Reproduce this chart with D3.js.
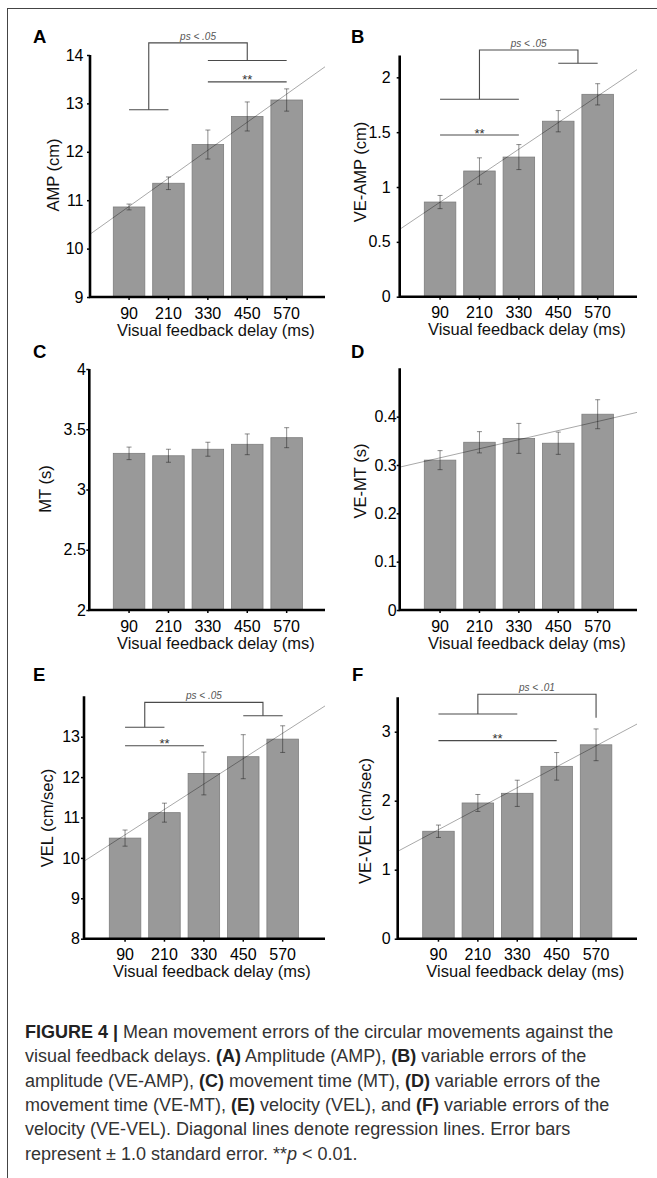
<!DOCTYPE html>
<html><head><meta charset="utf-8">
<script src="https://cdn.jsdelivr.net/npm/d3@7"></script>
<style>body{margin:0;background:#fff}svg{display:block}</style>
</head><body><svg id="c" width="657" height="1178"></svg>
<script>
// ---------- data ----------
const delays = ["90","210","330","450","570"];
const delayMs = [90,210,330,450,570];

const ampMean = [10.86, 11.35, 12.15, 12.73, 13.07];
const ampSE   = [0.06, 0.13, 0.30, 0.30, 0.23];
const veAmpMean = [0.863, 1.146, 1.273, 1.60, 1.845];
const veAmpSE   = [0.06, 0.12, 0.114, 0.097, 0.097];
const mtMean = [3.30, 3.28, 3.334, 3.375, 3.43];
const mtSE   = [0.052, 0.054, 0.058, 0.086, 0.083];
const veMtMean = [0.31, 0.347, 0.355, 0.345, 0.405];
const veMtSE   = [0.0197, 0.022, 0.031, 0.023, 0.030];
const velMean = [10.49, 11.12, 12.09, 12.505, 12.94];
const velSE   = [0.20, 0.235, 0.53, 0.545, 0.33];
const veVelMean = [1.557, 1.967, 2.107, 2.498, 2.81];
const veVelSE   = [0.09, 0.123, 0.19, 0.20, 0.23];

const ticksA = [9,10,11,12,13,14];
const ticksB = [0,0.5,1,1.5,2];
const ticksC = [2,2.5,3,3.5,4];
const ticksD = [0,0.1,0.2,0.3,0.4];
const ticksE = [8,9,10,11,12,13];
const ticksF = [0,1,2,3];

// significance brackets (group = bar indices, levels in data units)
const sigA = {text:"ps < .05", top:14.25, left:[0,1,12.87], right:[2,4,13.886], star:[2,4,13.445]};
const sigB = {text:"ps < .05", top:2.249, left:[0,2,1.80], right:[3,4,2.128], star:[0,2,1.474]};
const sigE = {text:"ps < .05", top:13.85, left:[0,1,13.233], right:[3,4,13.52], star:[0,2,12.777]};
const sigF = {text:"ps < .01", top:3.542, left:[0,2,3.257], right:[4,4,3.203], star:[0,3,2.87]};

const xTitle = "Visual feedback delay (ms)";

const captionLines = [
  [["FIGURE 4 | ","b"],["Mean movement errors of the circular movements against the",""]],
  [["visual feedback delays. ",""],["(A)","b"],[" Amplitude (AMP), ",""],["(B)","b"],[" variable errors of the",""]],
  [["amplitude (VE-AMP), ",""],["(C)","b"],[" movement time (MT), ",""],["(D)","b"],[" variable errors of the",""]],
  [["movement time (VE-MT), ",""],["(E)","b"],[" velocity (VEL), and ",""],["(F)","b"],[" variable errors of the",""]],
  [["velocity (VE-VEL). Diagonal lines denote regression lines. Error bars",""]],
  [["represent \u00b1 1.0 standard error. **",""],["p","i"],[" < 0.01.",""]]
];

// ---------- layout ----------
const FONT = "'Liberation Sans', Arial, Helvetica, sans-serif";
const panels = [
  {letter:"A", mean:ampMean, se:ampSE, yLabel:"AMP (cm)", domain:[9,14], ticks:ticksA,
   left:90, right:325, bottom:297, top:55, bar0:113.3, lx:33, ly:43.3, tx:59, ty:175, gap:6.5, reg:true, sig:sigA},
  {letter:"B", mean:veAmpMean, se:veAmpSE, yLabel:"VE-AMP (cm)", domain:[0,2.2], ticks:ticksB,
   left:399.7, right:637, bottom:296.7, top:55.4, bar0:424.3, lx:351, ly:43.3, tx:366, ty:172, gap:9, reg:true, sig:sigB},
  {letter:"C", mean:mtMean, se:mtSE, yLabel:"MT (s)", domain:[2,4], ticks:ticksC,
   left:89.3, right:325, bottom:610, top:369, bar0:113.3, lx:33, ly:358.3, tx:51, ty:489, gap:3.5, reg:false, sig:null},
  {letter:"D", mean:veMtMean, se:veMtSE, yLabel:"VE-MT (s)", domain:[0,0.5], ticks:ticksD,
   left:399.7, right:637, bottom:610, top:368.3, bar0:424.3, lx:351, ly:358.3, tx:365.5, ty:481, gap:3, reg:true, sig:null},
  {letter:"E", mean:velMean, se:velSE, yLabel:"VEL (cm/sec)", domain:[8,14], ticks:ticksE,
   left:84, right:325, bottom:938.7, top:696.3, bar0:109.3, lx:33, ly:681, tx:52.7, ty:818, gap:4, reg:true, sig:sigE},
  {letter:"F", mean:veVelMean, se:veVelSE, yLabel:"VE-VEL (cm/sec)", domain:[0,3.5], ticks:ticksF,
   left:397.7, right:637, bottom:938.7, top:697.2, bar0:422.7, lx:352, ly:681, tx:370.5, ty:821, gap:7, reg:true, sig:sigF}
];

const svg = d3.select("#c");
svg.append("rect").attr("x",7.5).attr("y",8.5).attr("width",720).attr("height",1200)
  .attr("fill","none").attr("stroke","#444").attr("stroke-width",1);

function drawPanel(p){
  const g = svg.append("g");
  const x = d3.scaleBand().domain(delays)
    .range([p.bar0 - 3.94, p.bar0 - 3.94 + 197]).paddingInner(0.2).paddingOuter(0.1);
  const y = d3.scaleLinear().domain(p.domain).range([p.bottom, p.top]);
  const cx = d => x(d) + x.bandwidth()/2;
  const xLin = d3.scaleLinear().domain([delayMs[0], delayMs[4]]).range([cx(delays[0]), cx(delays[4])]);

  // bars
  g.append("g").selectAll("rect").data(p.mean).join("rect")
    .attr("x",(d,i)=>x(delays[i])).attr("y",d=>y(d))
    .attr("width",x.bandwidth()).attr("height",d=>y(p.domain[0]) - y(d))
    .attr("fill","#999999").attr("stroke","#7d7d7d").attr("stroke-width",0.8);

  // regression
  if(p.reg){
    const mx = d3.mean(delayMs), my = d3.mean(p.mean);
    let sxy=0, sxx=0;
    delayMs.forEach((v,i)=>{ sxy += (v-mx)*(p.mean[i]-my); sxx += (v-mx)*(v-mx); });
    const b = sxy/sxx, a = my - b*mx;
    const d0 = xLin.invert(p.left), d1 = xLin.invert(p.right);
    g.append("line")
      .attr("x1",xLin(d0)).attr("y1",y(a+b*d0)).attr("x2",xLin(d1)).attr("y2",y(a+b*d1))
      .attr("stroke","rgba(0,0,0,0.38)").attr("stroke-width",0.9);
  }

  // error bars
  const eb = g.append("g").attr("stroke","rgba(30,30,30,0.5)").attr("stroke-width",1);
  p.mean.forEach((m,i)=>{
    const c = cx(delays[i]), lo = y(m - p.se[i]), hi = y(m + p.se[i]);
    eb.append("line").attr("x1",c).attr("x2",c).attr("y1",lo).attr("y2",hi);
    eb.append("line").attr("x1",c-2.5).attr("x2",c+2.5).attr("y1",lo).attr("y2",lo);
    eb.append("line").attr("x1",c-2.5).attr("x2",c+2.5).attr("y1",hi).attr("y2",hi);
  });

  // axes
  const yAx = g.append("g").attr("transform",`translate(${p.left},0)`)
    .call(d3.axisLeft(y).tickValues(p.ticks).tickSize(3).tickSizeOuter(0)
      .tickPadding(p.gap - 3).tickFormat(d3.format("~g")));
  yAx.select(".domain").remove();
  yAx.selectAll(".tick line").attr("stroke","#000").attr("stroke-width",1.5);
  yAx.selectAll(".tick text").attr("font-size",16).attr("font-family",FONT).attr("fill","#000");

  const xAx = g.append("g").attr("transform",`translate(0,${p.bottom})`)
    .call(d3.axisBottom(x).tickSize(3).tickSizeOuter(0));
  xAx.select(".domain").remove();
  xAx.selectAll(".tick line").attr("stroke","#000").attr("stroke-width",1.5);
  xAx.selectAll(".tick text").attr("font-size",16).attr("font-family",FONT).attr("fill","#000")
    .attr("y",21.5).attr("dy",0);

  g.append("path")
    .attr("d",`M${p.left},${y(p.domain[1])}V${y(p.domain[0])}H${p.right}`)
    .attr("fill","none").attr("stroke","#000").attr("stroke-width",2.6);

  // titles
  g.append("text").attr("x",cx(delays[2]) + 8).attr("y",p.bottom + 38.5)
    .attr("text-anchor","middle").attr("font-family",FONT).attr("font-size",16.5).attr("fill","#111")
    .text(xTitle);
  g.append("text").attr("transform",`translate(${p.tx},${p.ty}) rotate(-90)`)
    .attr("text-anchor","middle").attr("font-family",FONT).attr("font-size",16.5).attr("fill","#111")
    .text(p.yLabel);
  g.append("text").attr("x",p.lx).attr("y",p.ly).attr("font-family",FONT)
    .attr("font-weight","bold").attr("font-size",18.5).attr("fill","#000").text(p.letter);

  // significance
  if(p.sig){
    const s = p.sig, sg = g.append("g").attr("fill","none").attr("stroke","#4a4a4a").attr("stroke-width",1.1);
    const span = gr => [cx(delays[gr[0]]), cx(delays[gr[1]])];
    const [l0,l1] = span(s.left), [r0,r1] = span(s.right);
    const lm = (l0+l1)/2, rm = (r0+r1)/2, yt = y(s.top);
    if(l1>l0) sg.append("line").attr("x1",l0).attr("x2",l1).attr("y1",y(s.left[2])).attr("y2",y(s.left[2]));
    if(r1>r0) sg.append("line").attr("x1",r0).attr("x2",r1).attr("y1",y(s.right[2])).attr("y2",y(s.right[2]));
    sg.append("path").attr("d",`M${lm},${y(s.left[2])}V${yt}H${rm}V${y(s.right[2])}`);
    const [s0,s1] = span(s.star);
    sg.append("line").attr("x1",s0).attr("x2",s1).attr("y1",y(s.star[2])).attr("y2",y(s.star[2]));
    g.append("text").attr("x",(s0+s1)/2).attr("y",y(s.star[2]) + 2.5).attr("text-anchor","middle")
      .attr("font-family",FONT).attr("font-size",13).attr("fill","#333").text("**");
    g.append("text").attr("x",(lm+rm)/2).attr("y",yt - 3).attr("text-anchor","middle")
      .attr("font-family",FONT).attr("font-style","italic").attr("font-size",10).attr("fill","#555")
      .text(s.text);
  }
}
panels.forEach(drawPanel);

// caption
const cap = svg.append("g").attr("font-family",FONT).attr("font-size",18).attr("fill","#333")
  .style("white-space","pre");
captionLines.forEach((line,i)=>{
  const t = cap.append("text").attr("x",25).attr("y",1038 + i*24.3);
  line.forEach(([s,st])=>{
    const ts = t.append("tspan").text(s);
    if(st==="b") ts.attr("font-weight","bold").attr("fill","#222");
    if(st==="i") ts.attr("font-style","italic");
  });
});
</script>
</body></html>
